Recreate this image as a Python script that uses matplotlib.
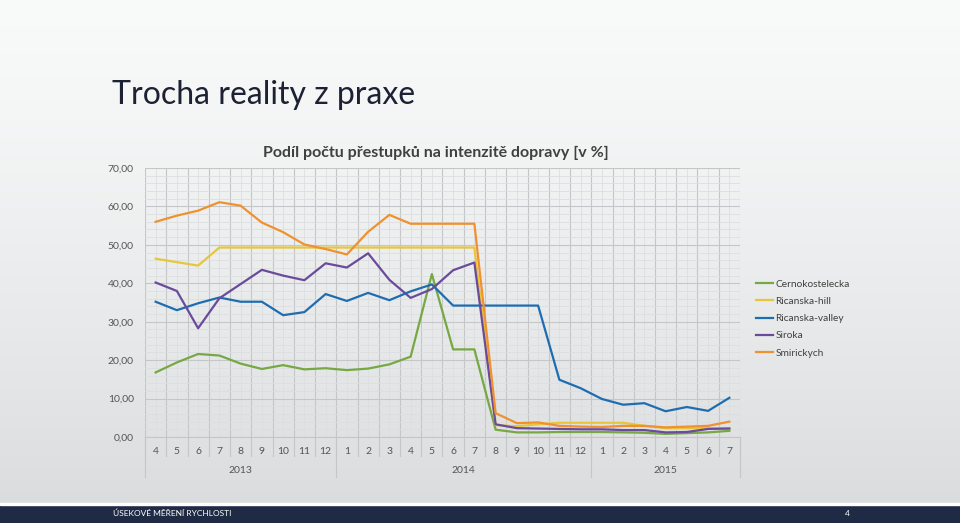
import numpy as np
import matplotlib
matplotlib.use("Agg")
import matplotlib.pyplot as plt
from matplotlib.ticker import MultipleLocator

plt.rcParams['font.family'] = ['Lato', 'DejaVu Sans']

# months on the x axis, grouped by year
months = [4, 5, 6, 7, 8, 9, 10, 11, 12,
          1, 2, 3, 4, 5, 6, 7, 8, 9, 10, 11, 12,
          1, 2, 3, 4, 5, 6, 7]
years = ["2013", "2014", "2015"]
year_len = [9, 12, 7]

cernokostelecka = [16.8, 19.4, 21.6, 21.2, 19.1, 17.7, 18.7, 17.6, 17.9,
                   17.4, 17.8, 18.9, 20.9, 42.4, 22.8, 22.8,
                   1.9, 1.2, 1.2, 1.3, 1.3, 1.3, 1.2, 1.1, 0.8, 1.0, 1.2, 1.6]
ricanska_hill = [46.4, 45.5, 44.6, 49.3, 49.3, 49.3, 49.3, 49.3, 49.3,
                 49.3, 49.3, 49.3, 49.3, 49.3, 49.3, 49.3,
                 3.1, 2.8, 3.3, 3.7, 3.7, 3.7, 3.7, 2.9, 2.3, 2.3, 2.3, 2.3]
ricanska_valley = [35.2, 33.0, 34.8, 36.3, 35.2, 35.2, 31.7, 32.5, 37.2,
                   35.4, 37.5, 35.6, 37.9, 39.7, 34.2, 34.2,
                   34.2, 34.2, 34.2, 14.9, 12.7, 9.9, 8.4, 8.8, 6.7, 7.8, 6.8, 10.2]
siroka = [40.2, 38.0, 28.3, 36.1, 39.8, 43.5, 42.0, 40.8, 45.2,
          44.1, 47.8, 40.9, 36.2, 38.5, 43.4, 45.4,
          3.3, 2.3, 2.2, 2.1, 2.0, 2.0, 1.8, 1.8, 1.2, 1.3, 2.1, 2.2]
smirickych = [56.0, 57.6, 58.9, 61.1, 60.2, 55.8, 53.3, 50.1, 48.9,
              47.5, 53.4, 57.8, 55.5, 55.5, 55.5, 55.5,
              6.2, 3.6, 3.8, 2.9, 2.7, 2.6, 2.9, 2.9, 2.5, 2.7, 2.9, 4.0]

series = [("Cernokostelecka", cernokostelecka, "#76a844"),
          ("Ricanska-hill", ricanska_hill, "#e8c63c"),
          ("Ricanska-valley", ricanska_valley, "#1f6db1"),
          ("Siroka", siroka, "#6a4b9b"),
          ("Smirickych", smirickych, "#ef912f")]

W, H = 960, 523
fig = plt.figure(figsize=(W / 100, H / 100), dpi=100)

# slide background gradient
bg = fig.add_axes([0, 0, 1, 1], zorder=-10)
grad = np.linspace(0, 1, 256).reshape(-1, 1)
top_c = np.array([0.975, 0.98, 0.98])
bot_c = np.array([0.85, 0.86, 0.865])
img = top_c + (bot_c - top_c) * grad[..., None] ** 1.3
bg.imshow(img, aspect="auto", extent=[0, 1, 0, 1])
bg.set_xlim(0, 1)
bg.set_ylim(0, 1)
# footer bar
bg.axhspan(0, 18 / H, color="#1f2a45")
bg.axhspan(18 / H, 20.5 / H, color="white")
bg.axis("off")

fig.text(112 / W, 1 - 95 / H, "Trocha reality z praxe", fontsize=23,
         color="#1c2233", va="center", ha="left")
fig.text(113 / W, 1 - 513 / H, "ÚSEKOVÉ MĚŘENÍ RYCHLOSTI", fontsize=6,
         color="white", va="center")
fig.text(845 / W, 1 - 513 / H, "4", fontsize=6, color="white", va="center")

ax = fig.add_axes([145 / W, 1 - 437 / H, 595 / W, 269 / H])
ax.patch.set_alpha(0)
n = len(months)
x = np.arange(n)
for name, vals, col in series:
    ax.plot(x, vals, color=col, lw=1.6, label=name, zorder=3)

ax.set_xlim(-0.5, n - 0.5)
ax.set_ylim(0, 70)
ax.yaxis.set_major_locator(MultipleLocator(10))
ax.yaxis.set_minor_locator(MultipleLocator(2))
ax.set_yticklabels([f"{v:.2f}".replace(".", ",") for v in ax.get_yticks()])
ax.set_xticks(np.arange(-0.5, n, 1))
ax.set_xticks(x, minor=True)
ax.set_xticklabels([])
ax.grid(which="major", color="#c4c6c8", lw=0.8)
ax.grid(which="minor", color="#dcdedf", lw=0.6)
ax.tick_params(axis="both", which="both", length=0)
ax.tick_params(axis="y", labelsize=7.5, labelcolor="#555555", pad=8)
for s in ["top", "right", "left"]:
    ax.spines[s].set_visible(False)
ax.spines["bottom"].set_color("#c4c6c8")

# hierarchical x labels
trans = ax.get_xaxis_transform()
for i, m in enumerate(months):
    ax.text(i, -0.055, str(m), transform=trans, ha="center", va="center",
            fontsize=7.5, color="#555555")
for b in range(n + 1):
    ax.plot([b - 0.5, b - 0.5], [0, -0.07], transform=trans, color="#c4c6c8",
            lw=0.8, clip_on=False)
start = 0
bounds = [0]
for y, L in zip(years, year_len):
    ax.text(start + L / 2 - 0.5, -0.125, y, transform=trans, ha="center",
            va="center", fontsize=7.5, color="#555555")
    start += L
    bounds.append(start)
for b in bounds:
    ax.plot([b - 0.5, b - 0.5], [0, -0.15], transform=trans, color="#c4c6c8",
            lw=0.8, clip_on=False)

fig.text(436 / W, 1 - 153 / H, "Podíl počtu přestupků na intenzitě dopravy [v %]",
         fontsize=11.5, fontweight="bold", color="#404040", ha="center",
         va="center")

leg = ax.legend(loc="upper left", bbox_to_anchor=(1.02, 0.6), frameon=False,
                fontsize=7.3, handlelength=1.7, handletextpad=0.2,
                labelspacing=0.8, borderaxespad=0)
for t in leg.get_texts():
    t.set_color("#404040")

fig.savefig("out.png", dpi=100)
